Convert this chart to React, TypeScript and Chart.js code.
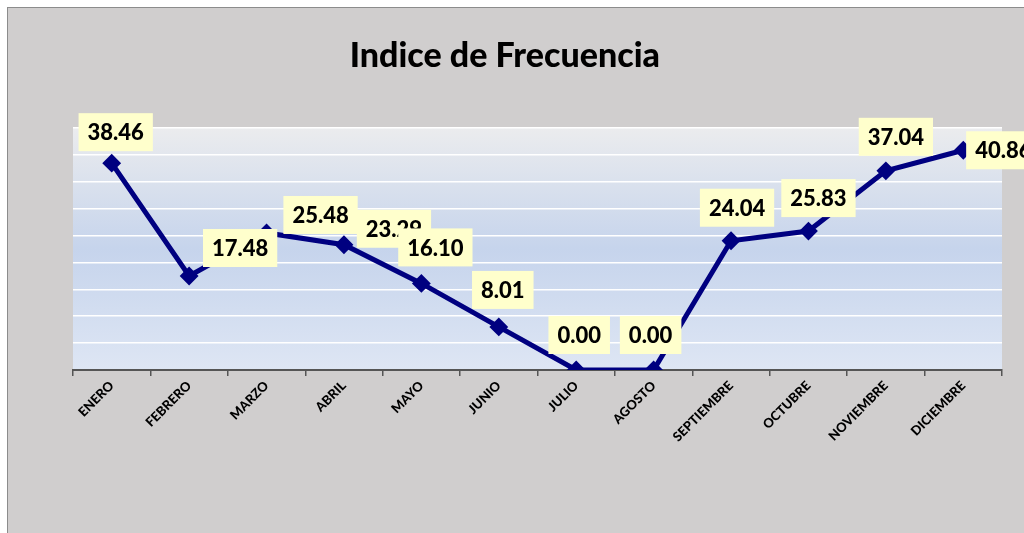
import React, { useEffect, useRef } from "react";
import { Chart, registerables } from "chart.js";

Chart.register(...registerables);

const months = [
  "ENERO", "FEBRERO", "MARZO", "ABRIL", "MAYO", "JUNIO",
  "JULIO", "AGOSTO", "SEPTIEMBRE", "OCTUBRE", "NOVIEMBRE", "DICIEMBRE",
];
const indice = [38.46, 17.48, 25.48, 23.29, 16.1, 8.01, 0, 0, 24.04, 25.83, 37.04, 40.86];
const titleText = "Indice de Frecuencia";
const yMin = 0;
const yMax = 45;
const yStep = 5;

// label box offsets (px) relative to each point, as placed in the original
const labelOffsets: [number, number][] = [
  [4, -31], [51, -28], [54, -18], [50, -16], [14, -36], [4, -37],
  [3, -35], [-3, -35], [6, -33], [10, -33], [10, -34], [40, 0],
];

const FONT = "Lato, 'Open Sans', sans-serif";

const plotBg = {
  id: "plotBg",
  beforeDraw(chart: any) {
    const { ctx, chartArea } = chart;
    if (!chartArea) return;
    const g = ctx.createLinearGradient(0, chartArea.top, 0, chartArea.bottom);
    g.addColorStop(0, "#ebecee");
    g.addColorStop(0.5, "#c6d4ec");
    g.addColorStop(1, "#dee6f4");
    ctx.save();
    ctx.fillStyle = g;
    ctx.fillRect(chartArea.left, chartArea.top, chartArea.right - chartArea.left, chartArea.bottom - chartArea.top);
    ctx.restore();
  },
};

const titleDraw = {
  id: "titleDraw",
  afterDraw(chart: any) {
    const { ctx } = chart;
    ctx.save();
    ctx.font = `900 34px ${FONT}`;
    ctx.fillStyle = "#000000";
    ctx.textAlign = "center";
    ctx.textBaseline = "alphabetic";
    ctx.fillText(titleText, chart.width * 0.489, 59);
    ctx.restore();
  },
};

const boxLabels = {
  id: "boxLabels",
  afterDatasetsDraw(chart: any) {
    const { ctx } = chart;
    const meta = chart.getDatasetMeta(0);
    const data = chart.data.datasets[0].data as number[];
    ctx.save();
    ctx.font = `900 22px ${FONT}`;
    ctx.textAlign = "center";
    ctx.textBaseline = "middle";
    meta.data.forEach((pt: any, i: number) => {
      const txt = data[i].toFixed(2);
      const [dx, dy] = labelOffsets[i];
      const cx = pt.x + dx;
      const cy = pt.y + dy;
      const w = ctx.measureText(txt).width + 18;
      const h = 38;
      ctx.fillStyle = "#ffffcc";
      ctx.fillRect(cx - w / 2, cy - h / 2, w, h);
      ctx.fillStyle = "#000000";
      ctx.fillText(txt, cx, cy + 1);
    });
    ctx.restore();
  },
};

export default function App() {
  const ref = useRef<HTMLCanvasElement>(null);
  useEffect(() => {
    if (!ref.current) return;
    const chart = new Chart(ref.current, {
      type: "line",
      data: {
        labels: months,
        datasets: [
          {
            data: indice,
            borderColor: "#000080",
            backgroundColor: "#000080",
            borderWidth: 5,
            pointStyle: "rectRot",
            pointRadius: 8,
            pointBorderWidth: 2,
            pointBackgroundColor: "#000080",
            pointBorderColor: "#000080",
            tension: 0,
          },
        ],
      },
      options: {
        animation: false,
        responsive: true,
        maintainAspectRatio: false,
        layout: { padding: { left: 65, right: 22, top: 120, bottom: 0 } },
        plugins: {
          legend: { display: false },
          tooltip: { enabled: false },
          title: { display: false },
        },
        scales: {
          x: {
            offset: true,
            afterFit(scale: any) {
              scale.height = 163;
            },
            grid: {
              offset: true,
              drawOnChartArea: false,
              drawTicks: true,
              tickLength: 6,
              color: "#555555",
              lineWidth: 1.5,
            },
            border: { display: true, color: "#555555", width: 2 },
            ticks: {
              color: "#000000",
              font: { family: FONT, size: 13, weight: "900" },
              maxRotation: 45,
              minRotation: 45,
              autoSkip: false,
              padding: 2,
            },
          },
          y: {
            min: yMin,
            max: yMax,
            ticks: { display: false, stepSize: yStep },
            grid: { color: "#ffffff", lineWidth: 1.5, drawTicks: false },
            border: { display: false },
          },
        },
      },
      plugins: [plotBg, boxLabels, titleDraw],
    });
    return () => chart.destroy();
  }, []);

  return (
    <div
      style={{
        position: "fixed",
        left: 7,
        top: 7,
        width: 1017,
        height: 526,
        boxSizing: "border-box",
        borderLeft: "1px solid #8c8c8c",
        borderTop: "1px solid #8c8c8c",
        background: "#d0cece",
      }}
    >
      <div style={{ position: "relative", width: "100%", height: "100%" }}>
        <canvas ref={ref} />
      </div>
    </div>
  );
}
